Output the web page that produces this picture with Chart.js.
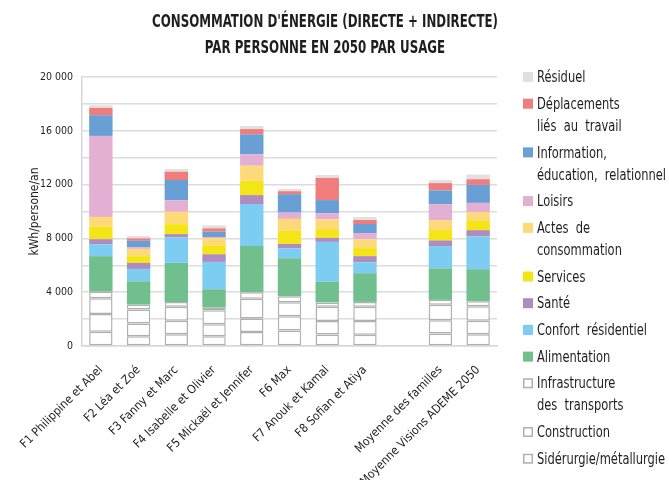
<!DOCTYPE html>
<html lang="fr">
<head>
<meta charset="utf-8">
<title>Consommation d'énergie par personne en 2050</title>
<script src="https://cdn.jsdelivr.net/npm/chart.js@4.4.1/dist/chart.umd.min.js"></script>
<style>
  html, body { margin: 0; padding: 0; background: #fff; }
  #graphe { display: block; }
</style>
</head>
<body>
<canvas id="graphe" width="669" height="480"></canvas>
<script>
// --- données (kWh/personne/an) ---
const familles = [
  "F1 Philippine et Abel", "F2 Léa et Zoé", "F3 Fanny et Marc", "F4 Isabelle et Olivier",
  "F5 Mickaël et Jennifer", "F6 Max", "F7 Anouk et Kamal", "F8 Sofian et Atiya",
  "", "Moyenne des familles", "Moyenne Visions ADEME 2050"
];

const titre = ["CONSOMMATION D'ÉNERGIE (DIRECTE + INDIRECTE)", "PAR PERSONNE EN 2050 PAR USAGE"];
const titreAxeY = "kWh/persone/an";
const graduationsY = [0, 4000, 8000, 12000, 16000, 20000];

// du bas vers le haut de la pile
const blancBas       = [1060, 730, 880, 730, 1050, 1150, 860, 840, null, 930, 880];
const siderurgie     = [1320, 940, 990, 890, 1000, 1060, 1000, 1020, null, 990, 990];
const construction   = [1170, 1040, 1040, 1040, 1460, 1040, 1050, 1050, null, 1140, 1090];
const infraTransport = [500, 370, 370, 200, 480, 450, 330, 370, null, 370, 370];
const alimentation   = [2630, 1730, 2900, 1360, 3440, 2830, 1530, 2130, null, 2340, 2380];
const confort        = [890, 920, 1890, 2030, 3120, 740, 2970, 820, null, 1660, 2450];
const sante          = [370, 450, 250, 570, 670, 320, 300, 450, null, 420, 450];
const services       = [920, 500, 740, 670, 1060, 970, 650, 600, null, 770, 690];
const actesConso     = [740, 540, 920, 540, 1120, 890, 720, 650, null, 740, 650];
const loisirs        = [6020, 130, 850, 70, 850, 470, 470, 470, null, 1190, 690];
const information    = [1540, 470, 1510, 400, 1490, 1370, 970, 670, null, 1020, 1340];
const deplacements   = [540, 180, 620, 250, 390, 220, 1640, 300, null, 540, 420];
const residuel       = [200, 170, 200, 220, 220, 170, 220, 220, null, 220, 350];

const POLICE = '"Liberation Sans Narrow", "DejaVu Sans Condensed", sans-serif';
const TEXTE = "#1e1e1e";

function serie(label, data, couleur, legende) {
  const blanc = couleur === "#ffffff";
  return {
    label,
    data,
    legende,
    backgroundColor: couleur,
    borderColor: blanc ? "#b0b0b0" : couleur,
    borderWidth: blanc ? 1.5 : 0,
    borderSkipped: false,
    barPercentage: 0.62,
    categoryPercentage: 1
  };
}

const jeux = [
  serie("", blancBas, "#ffffff", null),
  serie("Sidérurgie/métallurgie", siderurgie, "#ffffff", ["Sidérurgie/métallurgie"]),
  serie("Construction", construction, "#ffffff", ["Construction"]),
  serie("Infrastructure des transports", infraTransport, "#ffffff", ["Infrastructure", "des  transports"]),
  serie("Alimentation", alimentation, "#70bf8c", ["Alimentation"]),
  serie("Confort résidentiel", confort, "#7dcdf2", ["Confort  résidentiel"]),
  serie("Santé", sante, "#b08bc0", ["Santé"]),
  serie("Services", services, "#f4e516", ["Services"]),
  serie("Actes de consommation", actesConso, "#fed97a", ["Actes  de", "consommation"]),
  serie("Loisirs", loisirs, "#e3b0d3", ["Loisirs"]),
  serie("Information, éducation, relationnel", information, "#689fd4", ["Information,", "éducation,  relationnel"]),
  serie("Déplacements liés au travail", deplacements, "#f07c7c", ["Déplacements", "liés  au  travail"]),
  serie("Résiduel", residuel, "#e0e0e0", ["Résiduel"])
];

// texte resserré horizontalement (la police d'origine est très condensée)
function texteSerre(ctx, txt, x, y, k) {
  ctx.save();
  ctx.translate(x, y);
  ctx.scale(k, 1);
  ctx.fillText(txt, 0, 0);
  ctx.restore();
}

// titre et légende dessinés à la main, comme dans l'original
const decor = {
  id: "decor",
  afterDraw(chart) {
    const ctx = chart.ctx;
    ctx.save();
    ctx.fillStyle = TEXTE;
    ctx.textAlign = "center";
    ctx.textBaseline = "middle";
    ctx.font = "bold 18px " + POLICE;
    const kTitre = Math.min(1, 346 / ctx.measureText(titre[0]).width);
    titre.forEach((ligne, i) => texteSerre(ctx, ligne, 325, 22 + i * 26, kTitre));

    ctx.textAlign = "left";
    ctx.font = "16px " + POLICE;
    const lignes = jeux.filter(d => d.legende).flatMap(d => d.legende);
    const plusLongue = Math.max(...lignes.map(l => ctx.measureText(l).width));
    const kLeg = Math.min(1, 129 / plusLongue);
    let y = 77;
    chart.data.datasets.slice().reverse().forEach(ds => {
      if (!ds.legende) return;
      ctx.fillStyle = ds.backgroundColor;
      ctx.fillRect(523, y - 5, 10, 10);
      if (ds.backgroundColor === "#ffffff") {
        ctx.strokeStyle = "#b0b0b0";
        ctx.lineWidth = 1.5;
        ctx.strokeRect(523.75, y - 4.25, 8.5, 8.5);
      }
      ctx.fillStyle = TEXTE;
      ds.legende.forEach((ligne, i) => texteSerre(ctx, ligne, 537, y + 1 + i * 22, kLeg));
      y += 26.7 + 22 * (ds.legende.length - 1);
    });
    ctx.restore();
  }
};

Chart.defaults.font.family = POLICE;
Chart.defaults.color = TEXTE;

new Chart(document.getElementById("graphe"), {
  type: "bar",
  data: { labels: familles, datasets: jeux },
  options: {
    responsive: false,
    animation: false,
    layout: { autoPadding: false, padding: { top: 77, right: 172, bottom: 0, left: 22 } },
    plugins: {
      legend: { display: false },
      title: { display: false },
      tooltip: { enabled: false }
    },
    scales: {
      x: {
        stacked: true,
        grid: { display: false },
        border: { color: "#d6d6d6", width: 1.5 },
        ticks: { minRotation: 45, maxRotation: 45, autoSkip: false, font: { size: 12 }, padding: 9 },
        afterFit: s => { s.height = 134; }
      },
      y: {
        stacked: true,
        min: 0,
        max: 20000,
        grid: { color: "#dcdcdc", lineWidth: 1.5, drawTicks: false },
        border: { color: "#d6d6d6", width: 1.5 },
        ticks: {
          stepSize: 2000,
          padding: 9,
          font: { size: 10.5 },
          callback: v => graduationsY.includes(v) ? v.toLocaleString("fr-FR").replace(/\s/g, " ") : ""
        },
        title: { display: true, text: titreAxeY, font: { size: 12 }, padding: { top: 6, bottom: 4 } },
        afterFit: s => { s.width = 60; }
      }
    }
  },
  plugins: [decor]
});
</script>
</body>
</html>
